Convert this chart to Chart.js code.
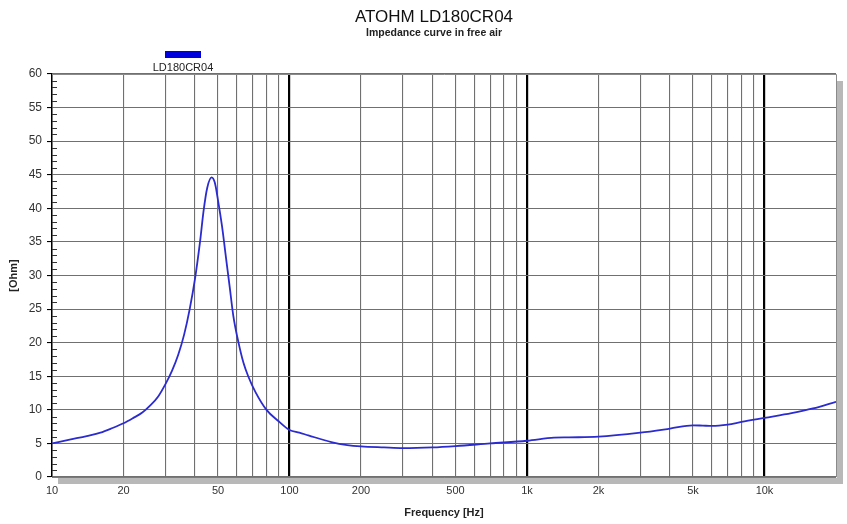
<!DOCTYPE html>
<html>
<head>
<meta charset="utf-8">
<script src="https://cdn.jsdelivr.net/npm/chart.js@4.4.0/dist/chart.umd.min.js"></script>
<style>
  html, body { margin: 0; padding: 0; background: #fff; }
  #wrap { width: 847px; height: 524px; }
</style>
</head>
<body>
<div id="wrap"><canvas id="myChart" width="847" height="524"></canvas></div>
<script>
// impedance curve (Hz / Ohm)
let freqs = [10, 12, 14, 16, 18, 20, 22, 24, 26, 28, 30, 32, 34, 36, 38, 40, 42, 43.5, 45, 47, 48.5, 50, 52, 54, 56, 58, 61, 64, 67, 72, 80, 90, 100, 110, 120, 150, 175, 200, 250, 300, 400, 500, 700, 1000, 1300, 1500, 2000, 3000, 4000, 5000, 5500, 6000, 7000, 8000, 10000, 13000, 16000, 20000];
let ohms = [5.0, 5.6, 6.1, 6.6, 7.3, 8.0, 8.8, 9.6, 10.7, 12.0, 13.8, 15.8, 18.2, 21.2, 25.0, 29.5, 35.0, 39.7, 43.0, 44.6, 43.8, 41.2, 37.3, 32.7, 28.3, 24.0, 20.0, 17.0, 15.0, 12.6, 10.0, 8.3, 7.0, 6.6, 6.2, 5.2, 4.75, 4.55, 4.4, 4.3, 4.4, 4.6, 5.0, 5.4, 5.85, 5.9, 6.0, 6.6, 7.2, 7.7, 7.65, 7.6, 7.8, 8.2, 8.8, 9.5, 10.2, 11.2];

// x grid lines and which of them get a label
let xTicks = [10, 20, 30, 40, 50, 60, 70, 80, 90,
  100, 200, 300, 400, 500, 600, 700, 800, 900,
  1000, 2000, 3000, 4000, 5000, 6000, 7000, 8000, 9000, 10000];
let xLabels = { 10: "10", 20: "20", 50: "50", 100: "100", 200: "200", 500: "500",
  1000: "1k", 2000: "2k", 5000: "5k", 10000: "10k" };
let decades = [100, 1000, 10000];

let title = "ATOHM LD180CR04";
let subtitle = "Impedance curve in free air";
let seriesName = "LD180CR04";

const FONT = "'Liberation Sans', Arial, sans-serif";

// title, legend, plot shadow and the little inside ticks of the y axis
const decorPlugin = {
  id: "decor",
  beforeDraw(chart) {
    const ctx = chart.ctx;
    const a = chart.chartArea;
    ctx.save();
    ctx.fillStyle = "#fff";
    ctx.fillRect(0, 0, chart.width, chart.height);
    // grey drop shadow right and below the plot
    ctx.fillStyle = "#b8b8b8";
    ctx.fillRect(a.left + 6, a.bottom + 1, a.right - a.left, 6);
    ctx.fillRect(a.right + 1, a.top + 7, 6, a.bottom - a.top);
    ctx.fillStyle = "#fff";
    ctx.fillRect(a.left, a.top, a.right - a.left, a.bottom - a.top);
    ctx.restore();
  },
  afterDraw(chart) {
    const ctx = chart.ctx;
    const a = chart.chartArea;
    const y = chart.scales.y;
    ctx.save();
    // plot frame (top / right)
    ctx.strokeStyle = "#8a8a8a";
    ctx.lineWidth = 1;
    ctx.beginPath();
    ctx.moveTo(a.left, a.top + 0.5);
    ctx.lineTo(a.right + 0.5, a.top + 0.5);
    ctx.lineTo(a.right + 0.5, a.bottom);
    ctx.stroke();

    // minor ticks inside the left axis
    ctx.strokeStyle = "#333";
    ctx.beginPath();
    for (let v = 0; v <= 60; v++) {
      if (v % 5 === 0) continue;
      let py = Math.round(y.getPixelForValue(v)) + 0.5;
      ctx.moveTo(a.left, py);
      ctx.lineTo(a.left + 5, py);
    }
    ctx.stroke();

    // titles
    ctx.fillStyle = "#111";
    ctx.textAlign = "center";
    ctx.textBaseline = "middle";
    ctx.font = "17px " + FONT;
    ctx.fillText(title, 434, 17);
    ctx.fillStyle = "#222";
    ctx.font = "bold 10.5px " + FONT;
    ctx.fillText(subtitle, 434, 33);

    // legend: swatch above the name
    let ds = chart.data.datasets[0];
    ctx.fillStyle = "#0000dd";
    ctx.fillRect(165, 51, 36, 7);
    ctx.fillStyle = "#222";
    ctx.font = "11px " + FONT;
    ctx.fillText(ds.label, 183, 68);
    ctx.restore();
  }
};

let points = freqs.map((f, i) => ({ x: f, y: ohms[i] }));

let ctx = document.getElementById("myChart").getContext("2d");

let myChart = new Chart(ctx, {
  type: "line",
  data: {
    datasets: [
      {
        label: seriesName,
        data: points,
        borderColor: "#2b2bd0",
        borderWidth: 1.8,
        pointRadius: 0,
        fill: false,
        cubicInterpolationMode: "monotone"
      }
    ]
  },
  options: {
    responsive: false,
    animation: false,
    devicePixelRatio: 1,
    layout: { padding: { top: 74, right: 11, left: 0, bottom: 0 } },
    plugins: {
      legend: { display: false },
      title: { display: false },
      tooltip: { enabled: false }
    },
    scales: {
      x: {
        type: "logarithmic",
        min: 10,
        max: 20000,
        afterBuildTicks: scale => {
          scale.ticks = xTicks.map(v => ({ value: v }));
        },
        afterFit: scale => {
          scale.height = 47;
        },
        ticks: {
          autoSkip: false,
          maxRotation: 0,
          padding: 7,
          color: "#333",
          font: { family: FONT, size: 11 },
          callback: value => xLabels[value] || ""
        },
        grid: {
          drawTicks: false,
          color: c => (decades.includes(c.tick.value) ? "#000" : "#707070"),
          lineWidth: c => (decades.includes(c.tick.value) ? 2.2 : 1.1)
        },
        border: { color: "#7a7a7a" },
        title: {
          display: true,
          text: "Frequency [Hz]",
          color: "#222",
          font: { family: FONT, size: 11, weight: "bold" },
          padding: { top: 0, bottom: 4 }
        }
      },
      y: {
        min: 0,
        max: 60,
        afterFit: scale => {
          scale.width = 52;
        },
        ticks: {
          stepSize: 1,
          autoSkip: false,
          padding: 5,
          color: "#333",
          font: { family: FONT, size: 12 },
          callback: value => (value % 5 === 0 ? value : "")
        },
        grid: {
          tickLength: 5,
          lineWidth: 1.1,
          color: c => (c.tick.value % 5 === 0 ? "#707070" : "rgba(0,0,0,0)"),
          tickColor: c => (c.tick.value % 5 === 0 ? "#000" : "rgba(0,0,0,0)")
        },
        border: { color: "#000", width: 1.5 },
        title: {
          display: true,
          text: "[Ohm]",
          color: "#222",
          font: { family: FONT, size: 11, weight: "bold" },
          padding: { top: 7, bottom: 0 }
        }
      }
    }
  },
  plugins: [decorPlugin]
});
</script>
</body>
</html>
